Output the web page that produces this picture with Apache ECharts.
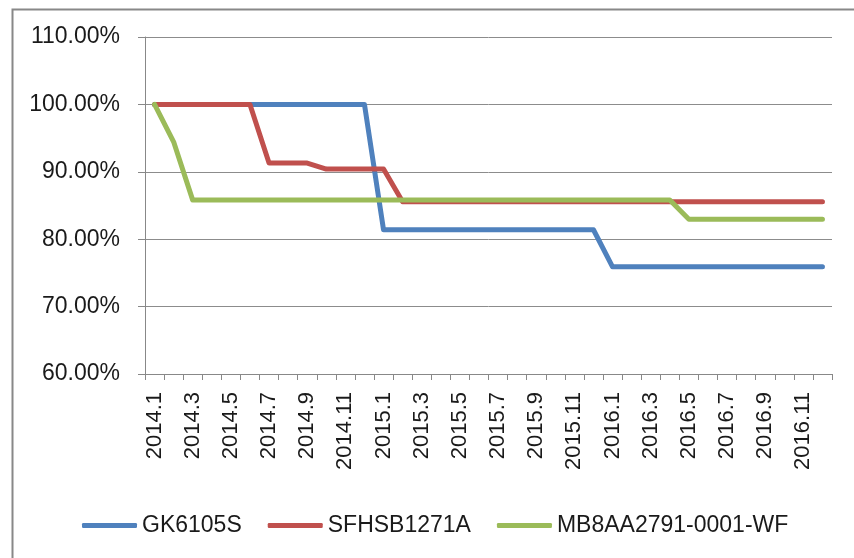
<!DOCTYPE html>
<html>
<head>
<meta charset="utf-8">
<script src="https://cdn.jsdelivr.net/npm/echarts@6/dist/echarts.min.js"></script>
<style>html,body{margin:0;padding:0;background:#fff}#c{width:854px;height:558px}</style>
</head>
<body>
<div id="c"></div>
<script>
const categories = [
  '2014.1','2014.2','2014.3','2014.4','2014.5','2014.6','2014.7','2014.8','2014.9','2014.10','2014.11','2014.12',
  '2015.1','2015.2','2015.3','2015.4','2015.5','2015.6','2015.7','2015.8','2015.9','2015.10','2015.11','2015.12',
  '2016.1','2016.2','2016.3','2016.4','2016.5','2016.6','2016.7','2016.8','2016.9','2016.10','2016.11','2016.12'
];
const seriesNames = ['GK6105S', 'SFHSB1271A', 'MB8AA2791-0001-WF'];
const gk6105s = [
  100,100,100,100,100,100,100,100,100,100,100,100,
  81.4,81.4,81.4,81.4,81.4,81.4,81.4,81.4,81.4,81.4,81.4,81.4,
  75.9,75.9,75.9,75.9,75.9,75.9,75.9,75.9,75.9,75.9,75.9,75.9
];
const sfhsb1271a = [
  100,100,100,100,100,100,91.3,91.3,91.3,90.4,90.4,90.4,
  90.4,85.55,85.55,85.55,85.55,85.55,85.55,85.55,85.55,85.55,85.55,85.55,
  85.55,85.55,85.55,85.55,85.55,85.55,85.55,85.55,85.55,85.55,85.55,85.55
];
const mb8aa = [
  100,94.45,85.8,85.8,85.8,85.8,85.8,85.8,85.8,85.8,85.8,85.8,
  85.8,85.8,85.8,85.8,85.8,85.8,85.8,85.8,85.8,85.8,85.8,85.8,
  85.8,85.8,85.8,85.8,82.95,82.95,82.95,82.95,82.95,82.95,82.95,82.95
];
const colors = ['#4F81BD', '#C0504D', '#9BBB59'];
const yMin = 60, yMax = 110, yStep = 10;

const FONT = '"Liberation Sans", Arial, sans-serif';
const chart = echarts.init(document.getElementById('c'), null, {renderer: 'canvas'});
const mk = (name, data, color) => ({
  name, type: 'line', data, showSymbol: false, symbol: 'none',
  lineStyle: {width: 5, color, cap: 'round', join: 'round'},
  itemStyle: {color},
  animation: false
});
chart.setOption({
  animation: false,
  color: colors,
  graphic: [{
    type: 'rect', left: 10, top: 7, z: 100, silent: true,
    shape: {width: 900, height: 600},
    style: {fill: 'none', stroke: '#888888', lineWidth: 2}
  }],
  grid: {left: 145, right: 22, top: 37, bottom: 184, containLabel: false},
  legend: {
    left: 77, top: 509,
    itemWidth: 55, itemHeight: 5, itemGap: 26, icon: 'roundRect',
    textStyle: {fontFamily: FONT, fontSize: 23, color: '#1a1a1a', padding: [0,0,0,0]},
    data: seriesNames
  },
  xAxis: {
    type: 'category', data: categories, boundaryGap: true,
    axisLine: {lineStyle: {color: '#888888', width: 1}},
    axisTick: {show: true, interval: 0, length: 6, lineStyle: {color: '#888888'}},
    axisLabel: {interval: 1, rotate: 90, margin: 18, fontFamily: FONT, fontSize: 22, color: '#1a1a1a'},
    splitLine: {show: false}
  },
  yAxis: {
    type: 'value', min: yMin, max: yMax, interval: yStep,
    axisLine: {show: true, lineStyle: {color: '#888888', width: 1}},
    axisTick: {show: true, length: 7, lineStyle: {color: '#888888'}},
    axisLabel: {margin: 25, fontFamily: FONT, fontSize: 23, color: '#1a1a1a',
      formatter: v => v.toFixed(2) + '%'},
    splitLine: {lineStyle: {color: '#8c8c8c', width: 1}}
  },
  series: [
    mk(seriesNames[0], gk6105s, colors[0]),
    mk(seriesNames[1], sfhsb1271a, colors[1]),
    mk(seriesNames[2], mb8aa, colors[2])
  ]
});
</script>
</body>
</html>
